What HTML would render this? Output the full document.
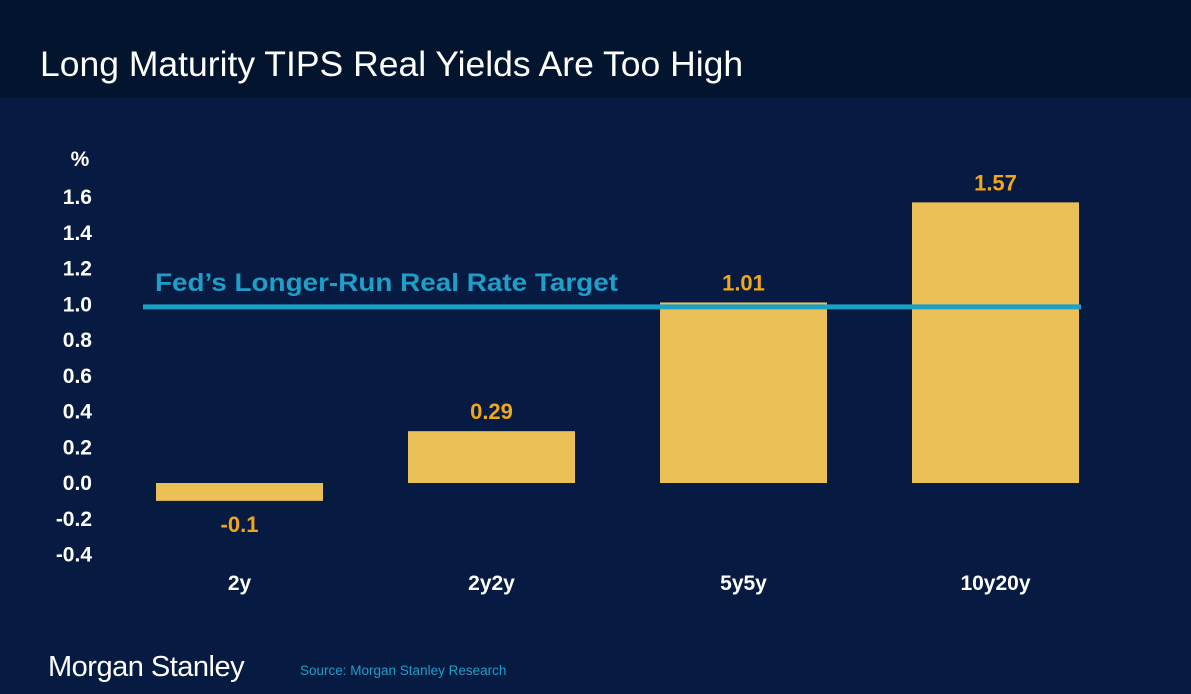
<!DOCTYPE html>
<html><head><meta charset="utf-8"><style>
body{margin:0;width:1191px;height:694px;background:#071a42;font-family:"Liberation Sans",sans-serif;overflow:hidden;position:relative}
#hdr{position:absolute;left:0;top:0;width:1191px;height:98px;background:#03142e}
#title{position:absolute;left:40px;top:44px;color:#fff;font-size:35.5px;margin:0;font-weight:normal;white-space:nowrap}
svg{position:absolute;left:0;top:0}
#logo{position:absolute;left:48px;top:651px;color:#fff;font-size:29px;letter-spacing:-0.5px;font-family:"Liberation Sans Narrow","Liberation Sans",sans-serif}
#src{position:absolute;left:300px;top:663px;color:#1e9fc8;font-size:13.5px}
</style></head><body>
<div id="hdr"></div>
<h1 id="title">Long Maturity TIPS Real Yields Are Too High</h1>
<svg id="chart" width="1191" height="694"></svg>
<div id="logo">Morgan Stanley</div>
<div id="src">Source: Morgan Stanley Research</div>
<script>
const categories=["2y","2y2y","5y5y","10y20y"];
const values=[-0.1,0.29,1.01,1.57];
const labels=["-0.1","0.29","1.01","1.57"];
const ticks=[1.6,1.4,1.2,1.0,0.8,0.6,0.4,0.2,0.0,-0.2,-0.4];
const tickLabels=["1.6","1.4","1.2","1.0","0.8","0.6","0.4","0.2","0.0","-0.2","-0.4"];
const targetRate=[0.985];
const NS="http://www.w3.org/2000/svg";
const svg=document.getElementById('chart');
const y=v=>483-v*178.75;
const x0=156,step=252,bw=167;
const x=i=>x0+i*step;
function mk(t,a){const e=document.createElementNS(NS,t);for(const k in a)e.setAttribute(k,a[k]);svg.appendChild(e);return e;}
let pct=mk('text',{x:80,y:166,fill:'#fff','font-size':21,'font-weight':'bold','text-anchor':'middle'});pct.textContent='%';


ticks.forEach((t,i)=>{const e=mk('text',{x:92,y:y(t)+7,fill:'#fff','font-size':21,'font-weight':'bold','text-anchor':'end'});e.textContent=tickLabels[i];

});
categories.forEach((c,i)=>{const v=values[i];
const r=mk('rect',{x:x(i),y:Math.min(y(v),y(0)),width:bw,height:Math.abs(y(v)-y(0)),fill:'#eac057'});


const ly=v>=0?y(v)-12:y(v)+31;
const l=mk('text',{x:x(i)+bw/2,y:ly,fill:'#f0a818','font-size':22,'font-weight':'bold','text-anchor':'middle'});l.textContent=labels[i];


const t=mk('text',{x:x(i)+bw/2,y:590,fill:'#fff','font-size':21,'font-weight':'bold','text-anchor':'middle'});t.textContent=c;

});
const ln=mk('line',{x1:143,x2:1081,y1:y(targetRate[0]),y2:y(targetRate[0]),stroke:'#1e9fc8','stroke-width':5});


const lt=mk('text',{x:155,y:291,fill:'#1e9fc8','font-size':25,'font-weight':'bold',textLength:463,lengthAdjust:'spacingAndGlyphs'});lt.textContent='Fed’s Longer-Run Real Rate Target';


</script>
</body></html>
